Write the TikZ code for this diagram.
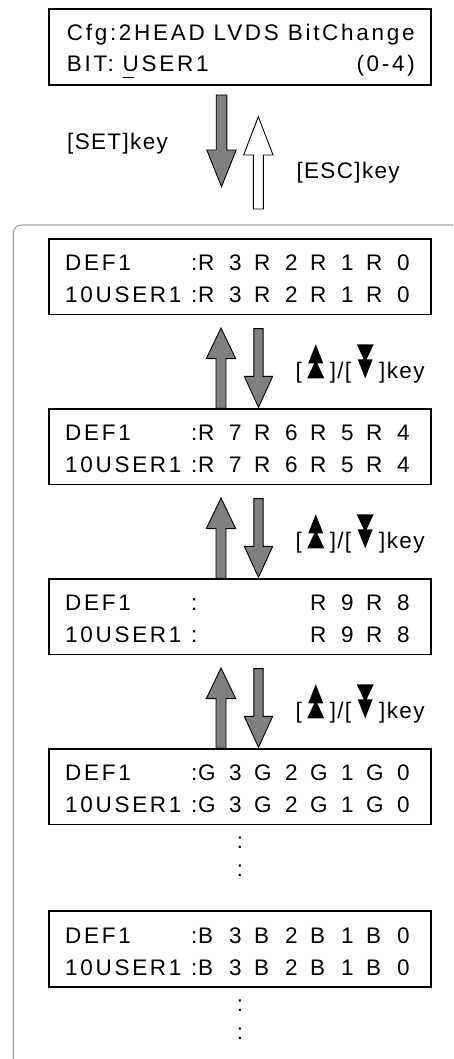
\documentclass[tikz,border=0pt]{standalone}
\usepackage{fontspec}
\setmainfont{Liberation Sans}
\newfontfamily\lcdfont[LetterSpace=12]{Liberation Sans}
\newfontfamily\topfont[LetterSpace=12]{Liberation Sans}
\newfontfamily\keyfont[LetterSpace=6]{Liberation Sans}
\definecolor{arrgray}{RGB}{128,128,128}
\definecolor{framegray}{RGB}{165,165,165}
\newcommand\vc[2]{\makebox[31pt][l]{#1}\makebox[25pt][l]{#2}}
\newcommand\lcdrow[6]{\makebox[126pt][l]{#1}\makebox[7pt][l]{:}\vc{#2}{#3}\vc{#2}{#4}\vc{#2}{#5}\vc{#2}{#6}}
\newcommand\symup{\tikz[x=1pt,y=1pt,baseline=0pt]{\fill[black] (0,0)--(17,0)--(8.5,18)--cycle (1,15)--(16,15)--(8.5,34)--cycle;}}
\newcommand\symdown{\tikz[x=1pt,y=1pt,baseline=0pt]{\fill[black] (0,34)--(17,34)--(8.5,16)--cycle (1,19)--(16,19)--(8.5,0)--cycle;}}
\newcommand\keylabel{[\hspace{5.5pt}\symup\hspace{5.5pt}]/[\hspace{5.5pt}\symdown\hspace{5.5pt}]key}
% block arrows: x, tip y, other end y, half shaft, half head, head length, fill
\newcommand\blkup[7]{\draw[blk,fill=#7] (#1-#4,#3) -- (#1-#4,#2+#6) -- (#1-#5,#2+#6) -- (#1,#2) -- (#1+#5,#2+#6) -- (#1+#4,#2+#6) -- (#1+#4,#3) -- cycle;}
\newcommand\blkdown[7]{\draw[blk,fill=#7] (#1-#4,#3) -- (#1-#4,#2-#6) -- (#1-#5,#2-#6) -- (#1,#2) -- (#1+#5,#2-#6) -- (#1+#4,#2-#6) -- (#1+#4,#3) -- cycle;}
\begin{document}
\begin{tikzpicture}[x=1pt,y=-1pt,
  lcdbox/.style={draw=black,line width=1.8pt,minimum width=381.6pt,minimum height=75.5pt,inner sep=0pt},
  lcdtxt/.style={font=\lcdfont\fontsize{22.5}{26}\selectfont,inner sep=0pt,anchor=base west},
  toptxt/.style={font=\topfont\fontsize{22.5}{26}\selectfont,inner sep=0pt},
  keytxt/.style={font=\keyfont\fontsize{22.5}{26}\selectfont,inner sep=0pt,anchor=base west},
  dots/.style={font=\fontsize{22}{26}\selectfont,inner sep=0pt,anchor=base},
  blk/.style={draw=black,line width=0.9pt,line join=miter}]
\useasboundingbox (0,0) rectangle (453,1059);
% frame
\draw[framegray,line width=1.2pt,rounded corners=8pt] (13.3,1059) -- (13.3,225) -- (453,225);
% top box
\node[lcdbox,minimum height=75.9pt] (b0) at (240,47.2) {};
\node[toptxt,anchor=base west] (t1) at (66.7,40.7) {Cfg:2HEAD LVDS BitChange};
\node[toptxt,anchor=base west] (t2) at (66.7,71.7) {BIT: \makebox[0pt][l]{\rule[-6.8pt]{11.5pt}{1.5pt}}USER1};
\node[toptxt,anchor=base east] (t3) at (415,71.7) {(0-4)};
% SET / ESC arrows
\blkdown{221.5}{186.7}{95}{5.3}{14.7}{36.7}{arrgray}
\blkup{258.3}{116.7}{209}{5}{14.7}{38.3}{white}
\node[keytxt] (kset) at (67,150) {[SET]key};
\node[keytxt] (kesc) at (296.3,178.3) {[ESC]key};
% boxes
\foreach \i/\T in {1/238.3,2/408.3,3/578.3,4/748.3,5/910.7}{
  \node[lcdbox] (b\i) at (240,\T+38.4) {};
}
\node[lcdtxt] (b1a) at (65,270.7) {\lcdrow{DEF1}{R}{3}{2}{1}{0}};
\node[lcdtxt] (b1b) at (65,302.7) {\lcdrow{10USER1}{R}{3}{2}{1}{0}};
\node[lcdtxt] (b2a) at (65,440.7) {\lcdrow{DEF1}{R}{7}{6}{5}{4}};
\node[lcdtxt] (b2b) at (65,472.7) {\lcdrow{10USER1}{R}{7}{6}{5}{4}};
\node[lcdtxt] (b3a) at (65,610.7) {\makebox[126pt][l]{DEF1}\makebox[7pt][l]{:}\hspace{112pt}\vc{R}{9}\vc{R}{8}};
\node[lcdtxt] (b3b) at (65,642.7) {\makebox[126pt][l]{10USER1}\makebox[7pt][l]{:}\hspace{112pt}\vc{R}{9}\vc{R}{8}};
\node[lcdtxt] (b4a) at (65,780.7) {\lcdrow{DEF1}{G}{3}{2}{1}{0}};
\node[lcdtxt] (b4b) at (65,812.7) {\lcdrow{10USER1}{G}{3}{2}{1}{0}};
\node[lcdtxt] (b5a) at (65,943.1) {\lcdrow{DEF1}{B}{3}{2}{1}{0}};
\node[lcdtxt] (b5b) at (65,975.1) {\lcdrow{10USER1}{B}{3}{2}{1}{0}};
% arrows between boxes
\foreach \k/\B/\N/\L in {1/315.3/408.3/378.3,2/485.3/578.3/548.3,3/655.3/748.3/718.3}{
  \blkup{221}{\B+12.7}{\N}{5}{14.7}{30.6}{arrgray}
  \blkdown{258.5}{\N-1}{\B+13.3}{4.6}{14.2}{31}{arrgray}
  \node[keytxt] (key\k) at (295.3,\L) {\keylabel};
}
% continuation dots
\node[dots] (d1) at (240,848) {:};
\node[dots] (d2) at (240,876) {:};
\node[dots] (d3) at (240,1011) {:};
\node[dots] (d4) at (240,1039) {:};
\end{tikzpicture}
\end{document}
